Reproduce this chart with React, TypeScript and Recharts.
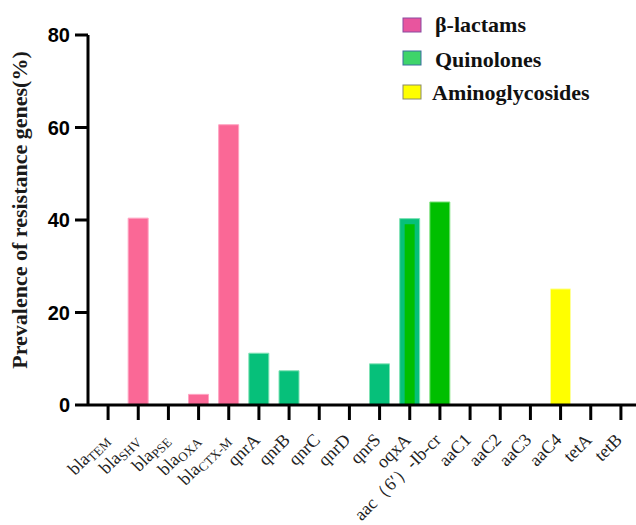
import React from 'react';
import { BarChart, Bar, XAxis, YAxis, Cell, Legend } from 'recharts';

// Gene labels ("base_subscript")
const genes = [
  'bla_TEM', 'bla_SHV', 'bla_PSE', 'bla_OXA', 'bla_CTX-M',
  'qnrA', 'qnrB', 'qnrC', 'qnrD', 'qnrS', 'oqxA', 'aac（6′）-Ib-cr',
  'aaC1', 'aaC2', 'aaC3', 'aaC4', 'tetA', 'tetB',
];
// Prevalence (%) per gene
const prevalence = [0, 40.4, 0, 2.3, 60.6, 11.2, 7.4, 0, 0, 8.9, 40.3, 43.9, 0, 0, 0, 25.1, 0, 0];
// Overlaid inner bar (only oqxA)
const overlay = [null, null, null, null, null, null, null, null, null, null, 39.1, null, null, null, null, null, null, null];
// Class of each gene
const geneClass = [
  'lactam', 'lactam', 'lactam', 'lactam', 'lactam',
  'quinolone', 'quinolone', 'quinolone', 'quinolone', 'quinolone', 'quinolone', 'aac',
  'aminoglycoside', 'aminoglycoside', 'aminoglycoside', 'aminoglycoside', 'tet', 'tet',
];
const yTicks = [0, 20, 40, 60, 80];
const legendNames = ['β-lactams', 'Quinolones', 'Aminoglycosides'];
const yTitle = 'Prevalence of resistance genes(%)';

const classFill: Record<string, string> = {
  lactam: '#FA6896',
  quinolone: '#06C07A',
  aac: '#00BF00',
  aminoglycoside: '#FFFF00',
  tet: '#888888',
};
const classStroke: Record<string, string> = {
  lactam: '#FFA3C2',
  quinolone: '#7FE2B5',
  aac: '#7FE27F',
  aminoglycoside: '#FFFF99',
  tet: '#bbbbbb',
};
const legendFill = ['#E8559E', '#3ED46A', '#FFFF00'];
const legendStroke = ['#8A4AA0', '#3A6FA0', '#8A8A6A'];

const data = genes.map((g, i) => ({ gene: g, value: prevalence[i], inner: overlay[i], cls: geneClass[i] }));

const GeneTick = (props: any) => {
  const { x, y, payload } = props;
  const [base, sub] = String(payload.value).split('_');
  return (
    <g transform={`translate(${x + 2},${y + 19})`}>
      <text
        x={0}
        y={0}
        textAnchor="end"
        transform="rotate(-45)"
        fontFamily="'Liberation Serif', 'Times New Roman', serif"
        fontSize={18}
        fill="#222"
      >
        {base}
        {sub ? (
          <tspan fontSize={13} dy={3}>
            {sub}
          </tspan>
        ) : null}
      </text>
    </g>
  );
};

const LegendBox = () => {
  const rows = [
    { rectY: 18, textY: 32, textX: 40 },
    { rectY: 51, textY: 67, textX: 40 },
    { rectY: 85, textY: 100, textX: 37 },
  ];
  return (
    <svg width={240} height={110}>
      {legendNames.map((n, i) => (
        <g key={n}>
          <rect x={8} y={rows[i].rectY} width={18} height={14} fill={legendFill[i]} stroke={legendStroke[i]} strokeWidth={1} />
          <text
            x={rows[i].textX}
            y={rows[i].textY}
            fontFamily="'Liberation Serif', 'Times New Roman', serif"
            fontWeight={700}
            fontSize={22}
            fill="#111"
          >
            {n}
          </text>
        </g>
      ))}
    </svg>
  );
};

const YTitle = () => (
  <text
    x={27}
    y={210}
    transform="rotate(-90, 27, 210)"
    textAnchor="middle"
    fontFamily="'Liberation Serif', 'Times New Roman', serif"
    fontWeight={700}
    fontSize={22}
    fill="#1a1a1a"
  >
    {yTitle}
  </text>
);

export default function App() {
  return (
    <div style={{ position: 'absolute', left: 0, top: 0, background: '#fff' }}>
      <BarChart width={636} height={525} data={data} margin={{ top: 35, right: 0, bottom: 0, left: 0 }}>
        <XAxis
          xAxisId="main"
          dataKey="gene"
          height={120}
          interval={0}
          padding={{ left: 5, right: 0 }}
          axisLine={{ stroke: '#000', strokeWidth: 3 }}
          tickLine={{ stroke: '#000', strokeWidth: 3 }}
          tickSize={15}
          tick={<GeneTick />}
        />
        <XAxis xAxisId="overlay" dataKey="gene" hide padding={{ left: 5, right: 0 }} />
        <YAxis
          xAxisId="main"
          domain={[0, 80]}
          ticks={yTicks}
          width={88}
          tickSize={13}
          tickMargin={5}
          axisLine={{ stroke: '#000', strokeWidth: 3 }}
          tickLine={{ stroke: '#000', strokeWidth: 3 }}
          tick={{ fontSize: 20, fontWeight: 700, fill: '#000', fontFamily: "'Liberation Sans', Arial, sans-serif" }}
          label={{ content: () => <YTitle /> }}
        />
        <Bar xAxisId="main" dataKey="value" barSize={20} isAnimationActive={false}>
          {data.map((d, i) => (
            <Cell key={i} fill={classFill[d.cls]} stroke={classStroke[d.cls]} strokeWidth={1} />
          ))}
        </Bar>
        <Bar xAxisId="overlay" dataKey="inner" barSize={10} fill="#00BF00" isAnimationActive={false} />
        <Legend
          layout="vertical"
          align="center"
          verticalAlign="middle"
          wrapperStyle={{ top: 0, left: 395, width: 240, height: 110 }}
          content={() => <LegendBox />}
        />
      </BarChart>
    </div>
  );
}
